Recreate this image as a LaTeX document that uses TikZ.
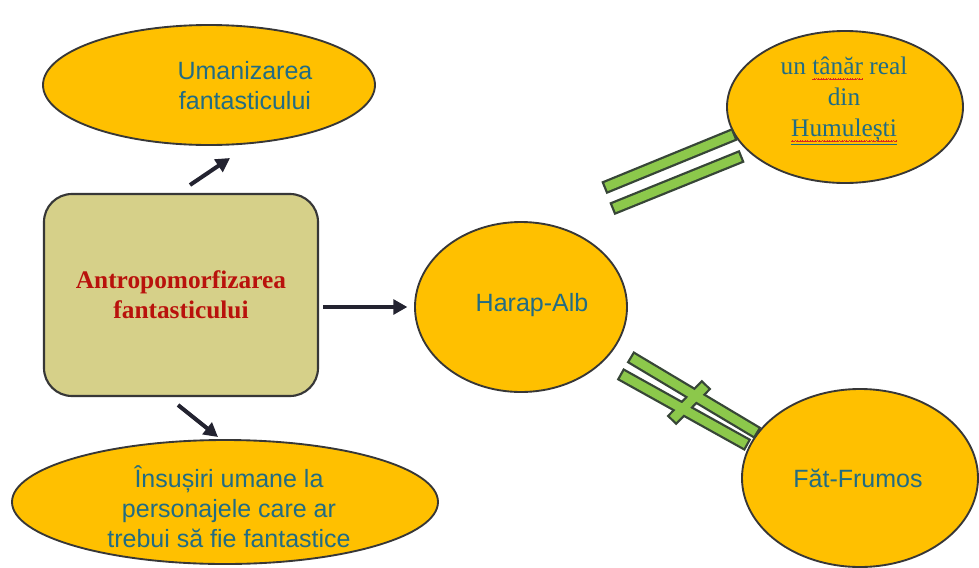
\documentclass[tikz,border=0pt]{standalone}
\usepackage{fontspec}
\setmainfont{Liberation Serif}
\newfontfamily\arialf{Liberation Sans}
\usetikzlibrary{arrows.meta,shapes.geometric,calc}
\definecolor{gold}{RGB}{255,192,0}
\definecolor{edgec}{RGB}{55,55,55}
\definecolor{tealtxt}{RGB}{33,108,132}
\definecolor{khaki}{RGB}{214,208,137}
\definecolor{darkred}{RGB}{185,18,12}
\definecolor{arrowc}{RGB}{35,35,48}
\definecolor{gfill}{RGB}{140,200,75}
\definecolor{gline}{RGB}{55,70,55}
\definecolor{spellred}{RGB}{220,40,30}
\newsavebox\mywavebox
\newsavebox\mysqbox
\newcommand\squigword[1]{\sbox\mysqbox{#1}\rlap{\raisebox{-3.8pt}[0pt][0pt]{\hbox to \wd\mysqbox{\xleaders\copy\mywavebox\hfil}}}\usebox\mysqbox}
\tikzset{
  oval/.style={ellipse, draw=edgec, line width=1.4pt, fill=gold, inner sep=0pt},
  lbl/.style={text=tealtxt, align=center, font=\arialf\fontsize{18.75}{22.5}\selectfont},
  slbl/.style={text=tealtxt, align=center, font=\fontsize{19}{23.2}\selectfont},
  arr/.style={draw=arrowc, line width=3pt, -{Triangle[length=10.5pt,width=11pt]}},
  gbar/.style 2 args={insert path={($(#1)!3.3pt!90:(#2)$) -- ($(#2)!3.3pt!-90:(#1)$) -- ($(#2)!3.3pt!90:(#1)$) -- ($(#1)!3.3pt!-90:(#2)$) -- cycle}},
  gout/.style={draw=gline, line width=3.4pt, line join=miter},
  gin/.style={fill=gfill}
}
\begin{document}
\sbox\mywavebox{\color{spellred}\rule[0pt]{0.45pt}{0.5pt}\rule[0.4pt]{0.45pt}{0.5pt}\rule[0.8pt]{0.45pt}{0.5pt}\rule[0.4pt]{0.45pt}{0.5pt}}%
\begin{tikzpicture}[x=0.75pt,y=-0.75pt]
\useasboundingbox (0,0) rectangle (979,568);
\fill[white] (0,0) rectangle (979,568);

% ellipses
\node[oval, minimum width=249pt, minimum height=90pt] (top) at (209,85) {};
\node[oval, minimum width=159pt, minimum height=127.5pt] (harap) at (521,307) {};
\node[oval, minimum width=177pt, minimum height=114pt] (real) at (845,107) {};
\node[oval, minimum width=177pt, minimum height=133.5pt] (fat) at (860,478) {};
\node[oval, minimum width=319.5pt, minimum height=93pt] (bot) at (225,502) {};

% box
\node[draw=edgec, line width=1.6pt, fill=khaki, rounded corners=21pt,
      minimum width=205.5pt, minimum height=151.5pt, inner sep=0pt,
      text=darkred, align=center, font=\bfseries\fontsize{19}{22.5}\selectfont] (box) at (181,295)
      {Antropomorfizarea\\fantasticului};

% texts
\node[lbl] (ttop) at (245,86) {Umanizarea\\fantasticului};
\node[lbl] (tharap) at (532,305) {Harap-Alb};
\node[lbl] (tfat) at (858,478) {Făt-Frumos};
\node[lbl] (tbot) at (229,507) {Însușiri umane la\\personajele care ar\\trebui să fie fantastice};
\node[slbl] (treal) at (844,101) {un \squigword{tânăr} real\\din\\\squigword{\underline{Humulești}}};

% arrows
\coordinate (u1) at (190,185);
\coordinate (u2) at (230,158);
\coordinate (d1) at (178,405);
\coordinate (d2) at (218,437);
\draw[arr] (u1) -- (u2);
\draw[arr] (d1) -- (d2);
\draw[arr, shorten <=3pt, shorten >=5pt] (box.east |- harap.west) -- (harap.west);

% equality sign
\coordinate (p1) at (606,187); \coordinate (q1) at (733,135);
\coordinate (p2) at (614,208); \coordinate (q2) at (740,157);
\path[gout] [gbar={p1}{q1}];
\path[gout] [gbar={p2}{q2}];
\path[gin] [gbar={p1}{q1}];
\path[gin] [gbar={p2}{q2}];

% not-equal sign
\coordinate (p3) at (632,358); \coordinate (q3) at (756,432);
\coordinate (p4) at (622,375); \coordinate (q4) at (746,444);
\coordinate (c1) at (673,419); \coordinate (c2) at (705,386);
\path[gout] [gbar={p3}{q3}];
\path[gout] [gbar={p4}{q4}];
\path[gout] [gbar={c1}{c2}];
\path[gin] [gbar={p3}{q3}];
\path[gin] [gbar={p4}{q4}];
\path[gin] [gbar={c1}{c2}];
\end{tikzpicture}
\end{document}
